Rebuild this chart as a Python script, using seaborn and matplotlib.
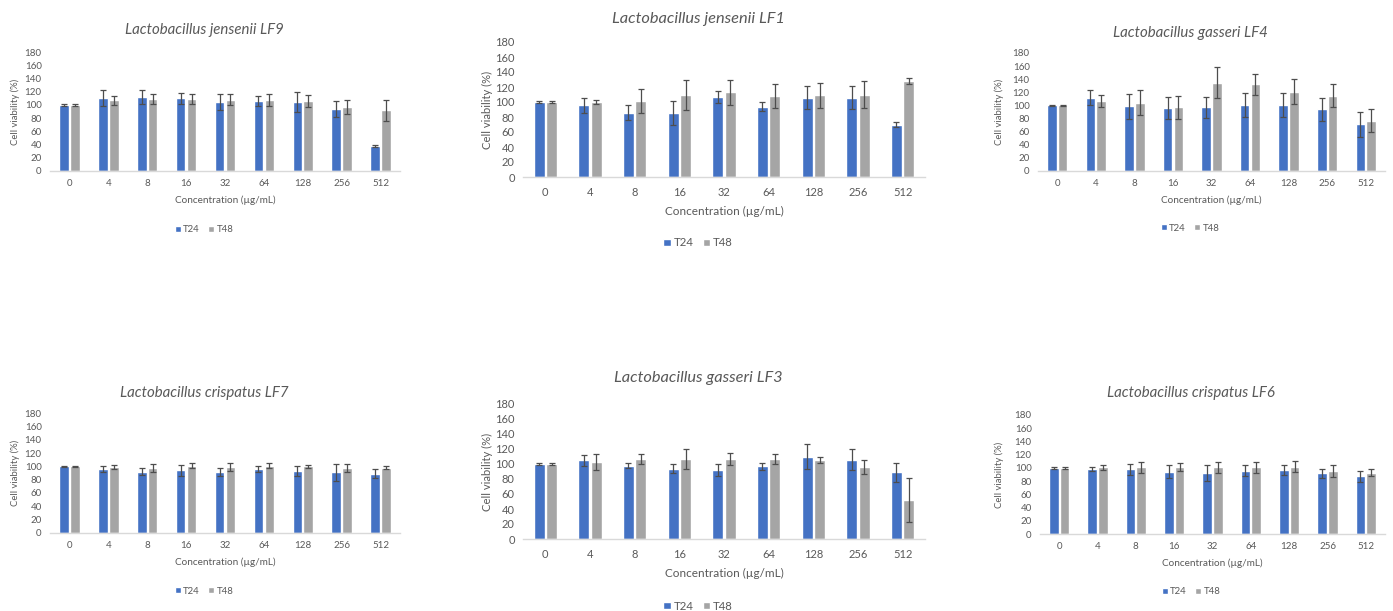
import matplotlib
matplotlib.use("Agg")
import matplotlib.pyplot as plt
import pandas as pd
import seaborn as sns

# Concentrations tested and exposure times
concentrations = ["0", "4", "8", "16", "32", "64", "128", "256", "512"]
times = ["T24", "T48"]

# Cell viability (%) means and standard deviations per strain
lf9_t24 = [100, 111, 112, 110, 104, 106, 104, 94, 38]
lf9_t24_sd = [1, 12, 11, 8, 12, 8, 15, 12, 2]
lf9_t48 = [100, 107, 109, 109, 108, 107, 106, 97, 92]
lf9_t48_sd = [1, 7, 8, 8, 8, 9, 9, 11, 16]

lf1_t24 = [100, 96, 86, 86, 107, 94, 106, 106, 70]
lf1_t24_sd = [1, 10, 10, 16, 8, 6, 15, 15, 3]
lf1_t48 = [100, 100, 101, 110, 113, 108, 109, 110, 128]
lf1_t48_sd = [1, 3, 16, 20, 17, 16, 17, 18, 4]

lf4_t24 = [100, 112, 99, 96, 97, 101, 101, 94, 71]
lf4_t24_sd = [1, 12, 19, 17, 16, 18, 18, 18, 19]
lf4_t48 = [100, 107, 104, 97, 135, 132, 121, 115, 77]
lf4_t48_sd = [1, 9, 19, 17, 24, 16, 19, 17, 17]

lf7_t24 = [100, 96, 92, 94, 92, 96, 93, 91, 89]
lf7_t24_sd = [1, 4, 5, 8, 6, 4, 7, 13, 7]
lf7_t48 = [100, 99, 97, 101, 99, 101, 100, 97, 98]
lf7_t48_sd = [1, 3, 6, 4, 6, 4, 2, 6, 2]

lf3_t24 = [100, 105, 98, 94, 92, 97, 110, 106, 89]
lf3_t24_sd = [1, 7, 3, 6, 8, 5, 17, 14, 13]
lf3_t48 = [100, 103, 107, 107, 107, 107, 106, 96, 52]
lf3_t48_sd = [1, 11, 7, 13, 8, 7, 4, 9, 29]

lf6_t24 = [100, 99, 98, 94, 92, 96, 97, 92, 87]
lf6_t24_sd = [1, 3, 8, 10, 12, 8, 7, 7, 8]
lf6_t48 = [100, 101, 101, 101, 101, 101, 102, 95, 93]
lf6_t48_sd = [1, 4, 8, 6, 8, 8, 8, 9, 6]

strains = [
    ("Lactobacillus jensenii LF9", lf9_t24, lf9_t24_sd, lf9_t48, lf9_t48_sd),
    ("Lactobacillus jensenii LF1", lf1_t24, lf1_t24_sd, lf1_t48, lf1_t48_sd),
    ("Lactobacillus gasseri LF4", lf4_t24, lf4_t24_sd, lf4_t48, lf4_t48_sd),
    ("Lactobacillus crispatus LF7", lf7_t24, lf7_t24_sd, lf7_t48, lf7_t48_sd),
    ("Lactobacillus gasseri LF3", lf3_t24, lf3_t24_sd, lf3_t48, lf3_t48_sd),
    ("Lactobacillus crispatus LF6", lf6_t24, lf6_t24_sd, lf6_t48, lf6_t48_sd),
]

# Panel geometry in pixels: plot box (left, right, top, bottom),
# chart-area centre x, title y, x-label y, legend y, y-label x, large panel flag
W, H = 1393, 611
layout = [
    ((50, 400, 52, 171), 204, 30, 200, 230, 15, False),
    ((523, 925, 42, 177), 698, 19, 211, 243, 487, True),
    ((1038, 1385, 53, 171), 1190, 33, 200, 228, 999, False),
    ((50, 400, 413, 533), 204, 393, 562, 591, 15, False),
    ((523, 925, 404, 539), 698, 378, 573, 606, 487, True),
    ((1040, 1385, 415, 534), 1191, 393, 563, 592, 999, False),
]

BLUE = "#4472C4"
GREY = "#A5A5A5"
TEXT = "#595959"
ERR = "#4d4d4d"

sns.set_theme(style="white")
plt.rcParams["font.family"] = ["Lato", "DejaVu Sans"]

fig = plt.figure(figsize=(W / 100, H / 100), dpi=100)
fig.patch.set_facecolor("white")


def fx(x):
    return x / W


def fy(y):
    return 1 - y / H


for (title, t24, t24_sd, t48, t48_sd), geom in zip(strains, layout):
    (x0, x1, ytop, ybot), cx, ty, xly, ly, ylx, big = geom
    tick_fs = 8 if big else 7
    title_fs = 11.8 if big else 10.8
    label_fs = 8.5 if big else 7.2

    ax = fig.add_axes([fx(x0), fy(ybot), fx(x1 - x0), (ybot - ytop) / H])

    df = pd.DataFrame({
        "Concentration": concentrations * 2,
        "Time": [times[0]] * len(concentrations) + [times[1]] * len(concentrations),
        "Viability": list(t24) + list(t48),
    })
    sns.barplot(data=df, x="Concentration", y="Viability", hue="Time",
                order=concentrations, hue_order=times,
                palette=[BLUE, GREY], width=0.56, gap=0.12,
                errorbar=None, saturation=1, legend=True, ax=ax)

    # Standard deviation whiskers at each bar centre
    for container, vals, errs in zip(ax.containers, [t24, t48], [t24_sd, t48_sd]):
        xs = [r.get_x() + r.get_width() / 2 for r in container]
        ax.errorbar(xs, vals, yerr=errs, fmt="none", ecolor=ERR,
                    elinewidth=0.9, capsize=2.2, capthick=0.9, zorder=3)

    ax.set_xlim(-0.5, len(concentrations) - 0.5)
    ax.set_ylim(0, 180)
    ax.set_yticks(range(0, 181, 20))
    for side in ("top", "right", "left"):
        ax.spines[side].set_visible(False)
    ax.spines["bottom"].set_color("#D9D9D9")
    ax.spines["bottom"].set_linewidth(1.0)
    ax.tick_params(axis="both", length=0, labelsize=tick_fs, colors=TEXT)
    ax.tick_params(axis="y", pad=6)
    ax.tick_params(axis="x", pad=7 if big else 6)

    ax.set_xlabel("Concentration (µg/mL)", fontsize=label_fs, color=TEXT)
    ax.xaxis.label.set_va("center")
    ax.xaxis.set_label_coords(0.5, -(xly - ybot) / (ybot - ytop))
    ax.set_ylabel("Cell viability (%)", fontsize=label_fs - 0.4, color=TEXT)
    ax.yaxis.label.set_va("center")
    ax.yaxis.set_label_coords(-(x0 - ylx) / (x1 - x0), 0.5)

    fig.text(fx(cx), fy(ty), title, ha="center", va="center",
             fontsize=title_fs, style="italic", color=TEXT)

    sns.move_legend(ax, "center", bbox_to_anchor=(fx(cx), fy(ly)),
                    bbox_transform=fig.transFigure, ncol=2, frameon=False,
                    title=None, fontsize=label_fs - 0.3, handlelength=0.65,
                    handleheight=0.65, handletextpad=0.25, columnspacing=0.8,
                    labelcolor=TEXT)

fig.savefig("out.png", dpi=100, facecolor="white")
